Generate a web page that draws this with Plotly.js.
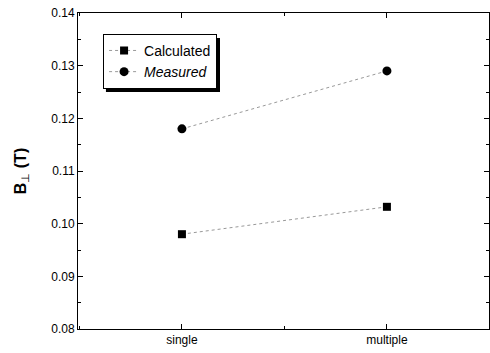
<!DOCTYPE html>
<html>
<head>
<meta charset="utf-8">
<script src="https://cdn.plot.ly/plotly-3.0.1.min.js"></script>
<style>html,body{margin:0;padding:0;background:#fff;}#chart{width:490px;height:353px;}</style>
</head>
<body>
<div id="chart"></div>
<script>
var categories = ["single", "multiple"];
var calculated = [0.098, 0.1032];
var measured = [0.118, 0.129];
var yTicks = [0.08, 0.09, 0.10, 0.11, 0.12, 0.13, 0.14];
var yTickText = ["0.08", "0.09", "0.10", "0.11", "0.12", "0.13", "0.14"];

var idx = categories.map(function (c, i) { return i; });

var traces = [
  {
    x: idx, y: calculated, name: "Calculated", mode: "lines+markers",
    line: {color: "#999", width: 1, dash: "dot"},
    marker: {symbol: "square", size: 8, color: "#000"}
  },
  {
    x: idx, y: measured, name: "<i>Measured</i>", mode: "lines+markers",
    line: {color: "#999", width: 1, dash: "dot"},
    marker: {symbol: "circle", size: 9, color: "#000"}
  }
];

var layout = {
  width: 490, height: 353,
  margin: {l: 78, r: 1, t: 13, b: 24},
  paper_bgcolor: "#fff", plot_bgcolor: "#fff",
  font: {family: "Liberation Sans, Arial, sans-serif", color: "#000", size: 12},
  showlegend: true,
  legend: {
    x: 0.061, y: 0.934, xanchor: "left", yanchor: "top",
    bgcolor: "#fff", bordercolor: "#000", borderwidth: 1,
    font: {size: 14, color: "#000"},
    tracegroupgap: 0
  },
  xaxis: {
    range: [-0.507, 1.498],
    tickvals: idx, ticktext: categories,
    ticks: "inside", ticklen: 5, tickcolor: "#000",
    showline: true, linecolor: "#000", linewidth: 1, mirror: "ticks",
    showgrid: false, zeroline: false,
    minor: {ticks: "inside", dtick: 0.5, tick0: 0.5, ticklen: 3, tickcolor: "#000"},
    tickfont: {size: 12}
  },
  yaxis: {
    range: [0.08, 0.14],
    tickvals: yTicks, ticktext: yTickText,
    ticks: "inside", ticklen: 5, tickcolor: "#000",
    showline: true, linecolor: "#000", linewidth: 1, mirror: "ticks",
    showgrid: false, zeroline: false,
    minor: {ticks: "inside", dtick: 0.005, ticklen: 3, tickcolor: "#000"},
    tickfont: {size: 12},
    title: {text: "<b>B</b><sub>⊥</sub> <b>(T)</b>", font: {size: 16}, standoff: 20}
  },
  shapes: [
    {type: "rect", xref: "paper", yref: "paper",
     x0: 0.068, x1: 0.3455, y0: 0.75, y1: 0.921,
     fillcolor: "#000", line: {width: 0}, layer: "above"}
  ]
};

Plotly.newPlot("chart", traces, layout, {displayModeBar: false, staticPlot: true});
</script>
</body>
</html>
